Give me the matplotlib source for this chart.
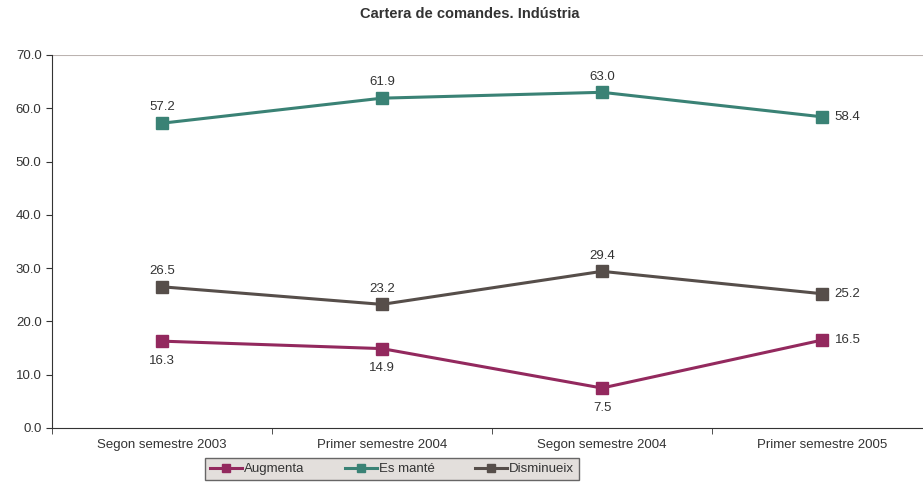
import numpy as np
import matplotlib.pyplot as plt

plt.rcParams['font.family'] = ['Liberation Sans', 'DejaVu Sans']

periods = ['Segon semestre 2003', 'Primer semestre 2004',
           'Segon semestre 2004', 'Primer semestre 2005']
augmenta = [16.3, 14.9, 7.5, 16.5]
es_mante = [57.2, 61.9, 63.0, 58.4]
disminueix = [26.5, 23.2, 29.4, 25.2]

series = [
    ('Augmenta', augmenta, '#93295E', 'below'),
    ('Es manté', es_mante, '#3A8275', 'above'),
    ('Disminueix', disminueix, '#564E4A', 'above'),
]

fig = plt.figure(figsize=(9.23, 4.84), dpi=100)
ax = fig.add_axes([52 / 923, 56 / 484, 880 / 923, 373 / 484])

x = np.arange(len(periods))
txt_col = '#333333'
fs = 9.5
for name, vals, col, pos in series:
    ax.plot(x, vals, color=col, lw=2.2, marker='s', ms=9, label=name)
    for i, v in enumerate(vals):
        if i == len(vals) - 1:
            ax.annotate(f'{v:.1f}', (x[i], v), xytext=(9, 0), textcoords='offset points',
                        ha='left', va='center', fontsize=fs, color=txt_col)
        elif pos == 'above':
            ax.annotate(f'{v:.1f}', (x[i], v), xytext=(0, 7), textcoords='offset points',
                        ha='center', va='bottom', fontsize=fs, color=txt_col)
        else:
            ax.annotate(f'{v:.1f}', (x[i], v), xytext=(0, -10), textcoords='offset points',
                        ha='center', va='top', fontsize=fs, color=txt_col)

ax.set_xlim(-0.5, len(periods) - 0.5)
ax.set_ylim(0, 70)
ax.set_yticks(np.arange(0, 71, 10))
ax.set_yticklabels([f'{t:.1f}' for t in np.arange(0, 71, 10)])
ax.set_xticks(x)
ax.set_xticklabels(periods)
ax.set_xticks(np.arange(-0.5, len(periods), 1), minor=True)
ax.tick_params(axis='x', which='major', length=0, pad=8, labelsize=fs, colors=txt_col)
ax.tick_params(axis='x', which='minor', length=4, color='#333333')
ax.tick_params(axis='y', length=4, labelsize=fs, colors=txt_col, color='#333333')

ax.axhline(70, color='#BBB3B0', lw=1.5)
for s in ['top', 'right']:
    ax.spines[s].set_visible(False)
for s in ['left', 'bottom']:
    ax.spines[s].set_color('#333333')

leg = fig.legend(loc='center', bbox_to_anchor=(392 / 923, 1 - 469 / 484), ncol=3,
                 fontsize=9.5, frameon=True, fancybox=False, handlelength=2.4,
                 handletextpad=0.15, columnspacing=3.1, borderpad=0.4, markerscale=0.6)
leg.get_frame().set_facecolor('#DDD8D4')
leg.get_frame().set_edgecolor('#444444')
leg.get_frame().set_linewidth(1)
for t in leg.get_texts():
    t.set_color(txt_col)

fig.text(470 / 923, 1 - 14 / 484, 'Cartera de comandes. Indústria', ha='center', va='center',
         fontsize=10.5, fontweight='bold', color='#333333')

fig.savefig('out.png', dpi=100)
